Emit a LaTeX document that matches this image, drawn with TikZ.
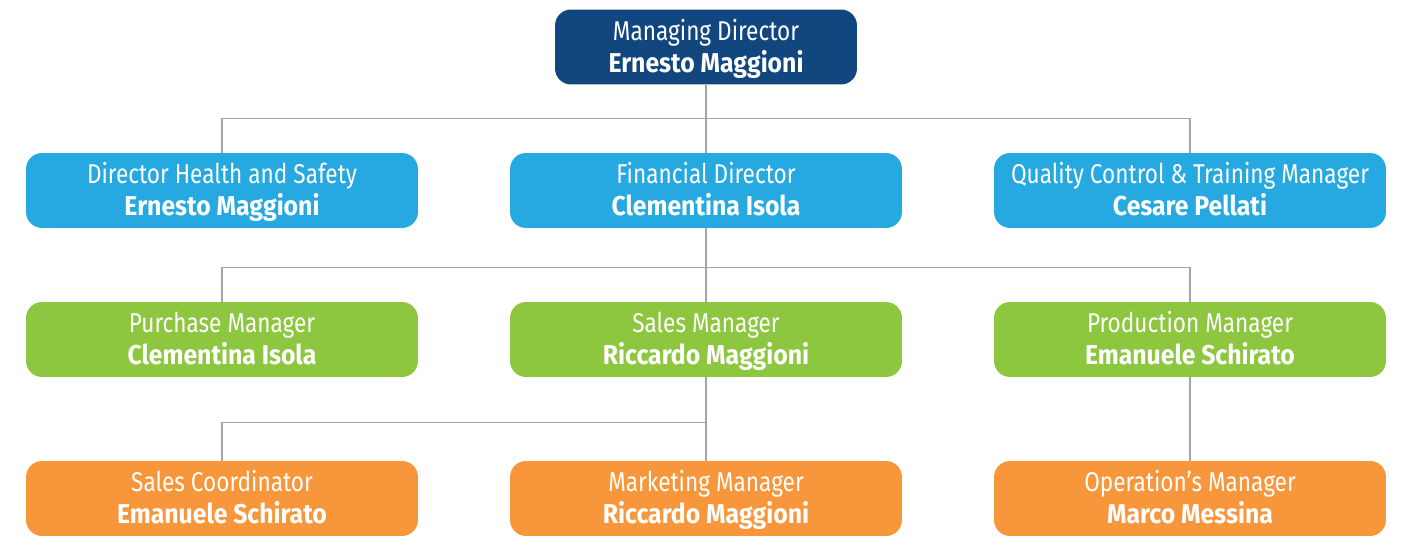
\documentclass[tikz,border=0pt]{standalone}
\usepackage{fontspec}
\setmainfont{Fira Sans}[FakeStretch=0.83, BoldFeatures={FakeStretch=0.91}]
\usetikzlibrary{calc,positioning}
\definecolor{mdblue}{HTML}{12467F}
\definecolor{dirblue}{HTML}{26A9E0}
\definecolor{mgrgreen}{HTML}{8DC63F}
\definecolor{opsorange}{HTML}{F7963A}
\definecolor{linkgray}{HTML}{A5A5A5}
\newcommand{\role}[2]{\rule{0pt}{16.3pt}#1\\\textbf{#2}\rule[-5.5pt]{0pt}{5.5pt}}

\begin{document}
\begin{tikzpicture}[x=0.02cm,y=-0.02cm,
    orgbox/.style={rounded corners=0.32cm, minimum width=7.84cm, minimum height=1.5cm,
      text=white, align=center, inner sep=0pt, font=\fontsize{15.5}{18.2}\selectfont},
    link/.style={draw=linkgray, line width=0.7pt}]
        \useasboundingbox (0,0) rectangle (1404,536);
        % top
        \node[orgbox, fill=mdblue, minimum width=6.04cm] (md) at (706,47) {\role{Managing Director}{Ernesto Maggioni}};
        % directors
        \node[orgbox, fill=dirblue] (hs) at (222,190.5) {\role{Director Health and Safety}{Ernesto Maggioni}};
        \node[orgbox, fill=dirblue] (fd) at (706,190.5) {\role{Financial Director}{Clementina Isola}};
        \node[orgbox, fill=dirblue] (qc) at (1190,190.5) {\role{Quality Control \& Training Manager}{Cesare Pellati}};
        % managers
        \node[orgbox, fill=mgrgreen] (pm) at (222,339.5) {\role{Purchase Manager}{Clementina Isola}};
        \node[orgbox, fill=mgrgreen] (sm) at (706,339.5) {\role{Sales Manager}{Riccardo Maggioni}};
        \node[orgbox, fill=mgrgreen] (prm) at (1190,339.5) {\role{Production Manager}{Emanuele Schirato}};
        % staff
        \node[orgbox, fill=opsorange] (sc) at (222,498.5) {\role{Sales Coordinator}{Emanuele Schirato}};
        \node[orgbox, fill=opsorange] (mm) at (706,498.5) {\role{Marketing Manager}{Riccardo Maggioni}};
        \node[orgbox, fill=opsorange] (om) at (1190,498.5) {\role{Operation's Manager}{Marco Messina}};
        % connectors
        \coordinate (bar1) at ($(md.south)!0.5!(fd.north)$);
        \coordinate (bar2) at ($(fd.south)!0.53!(sm.north)$);
        \coordinate (bar3) at ($(sm.south)!0.54!(mm.north)$);
        \draw[link] (md.south) -- (fd.north);
        \draw[link] (hs.north) |- (bar1) -| (qc.north);
        \draw[link] (fd.south) -- (sm.north);
        \draw[link] (pm.north) |- (bar2) -| (prm.north);
        \draw[link] (sm.south) -- (mm.north);
        \draw[link] (sc.north) |- (bar3);
        \draw[link] (prm.south) -- (om.north);
      \end{tikzpicture}
\end{document}
